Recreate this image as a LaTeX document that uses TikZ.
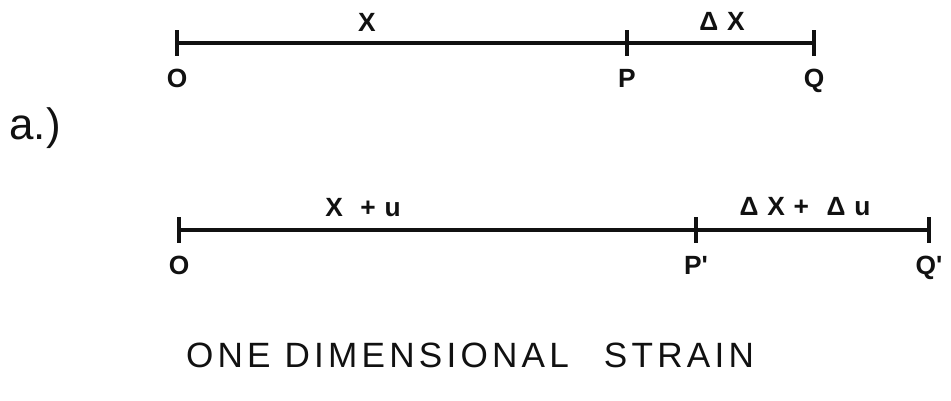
\documentclass[tikz,border=0pt]{standalone}
\usepackage{fontspec}
\setsansfont{Liberation Sans}
\usetikzlibrary{positioning}
\definecolor{ink}{HTML}{111111}

\tikzset{
  bar/.style={ink,line width=2.3pt},
  tickmark/.style={ink,line width=2pt},
  ptlabel/.style={ink,inner sep=0pt,font=\sffamily\bfseries\fontsize{15}{17}\selectfont},
  seglabel/.style={ink,font=\sffamily\bfseries\fontsize{15}{17}\selectfont},
}
\newcommand{\gap}{\hspace{5pt}}

\begin{document}
\begin{tikzpicture}[x=0.02cm,y=-0.02cm]
\useasboundingbox (0,0) rectangle (951,401);
% undeformed bar
\coordinate (O) at (177,43);
\coordinate (P) at (627,43);
\coordinate (Q) at (814,43);
\draw[bar] (O) -- (Q);
\foreach \pt in {O,P,Q}
  \draw[tickmark] ([yshift=0.25cm]\pt) -- ([yshift=-0.26cm]\pt);
\node[ptlabel,below=0.52cm of O] (lO) {O};
\node[ptlabel,below=0.52cm of P] (lP) {P};
\node[ptlabel,below=0.52cm of Q] (lQ) {Q};
\node[seglabel] (lX) at (367,22) {X};
\node[seglabel] (ldX) at (722,21) {Δ\gap X};
% label
\node[ink,font=\sffamily\fontsize{25}{27}\selectfont] (tag) at (35,128) {a.)};
% deformed bar
\coordinate (O2) at (179,230);
\coordinate (P2) at (696,230);
\coordinate (Q2) at (929,230);
\draw[bar] (O2) -- (Q2);
\foreach \pt in {O2,P2,Q2}
  \draw[tickmark] ([yshift=0.25cm]\pt) -- ([yshift=-0.26cm]\pt);
\node[ptlabel,below=0.52cm of O2] (lO2) {O};
\node[ptlabel,below=0.52cm of P2] (lP2) {P\textquotesingle};
\node[ptlabel,below=0.52cm of Q2] (lQ2) {Q\textquotesingle};
\node[seglabel] (lXu) at (363,208) {X\gap\gap+\gap u};
\node[seglabel] (ldXu) at (805,207) {Δ\gap X\gap+\gap\gap Δ\gap u};
% caption
\node[ink,font=\sffamily\fontsize{20}{22}\selectfont\addfontfeatures{LetterSpace=12}] (title) at (470,355)
  {ONE DIMENSIONAL\hspace{0.6em} STRAIN};
\end{tikzpicture}
\end{document}
